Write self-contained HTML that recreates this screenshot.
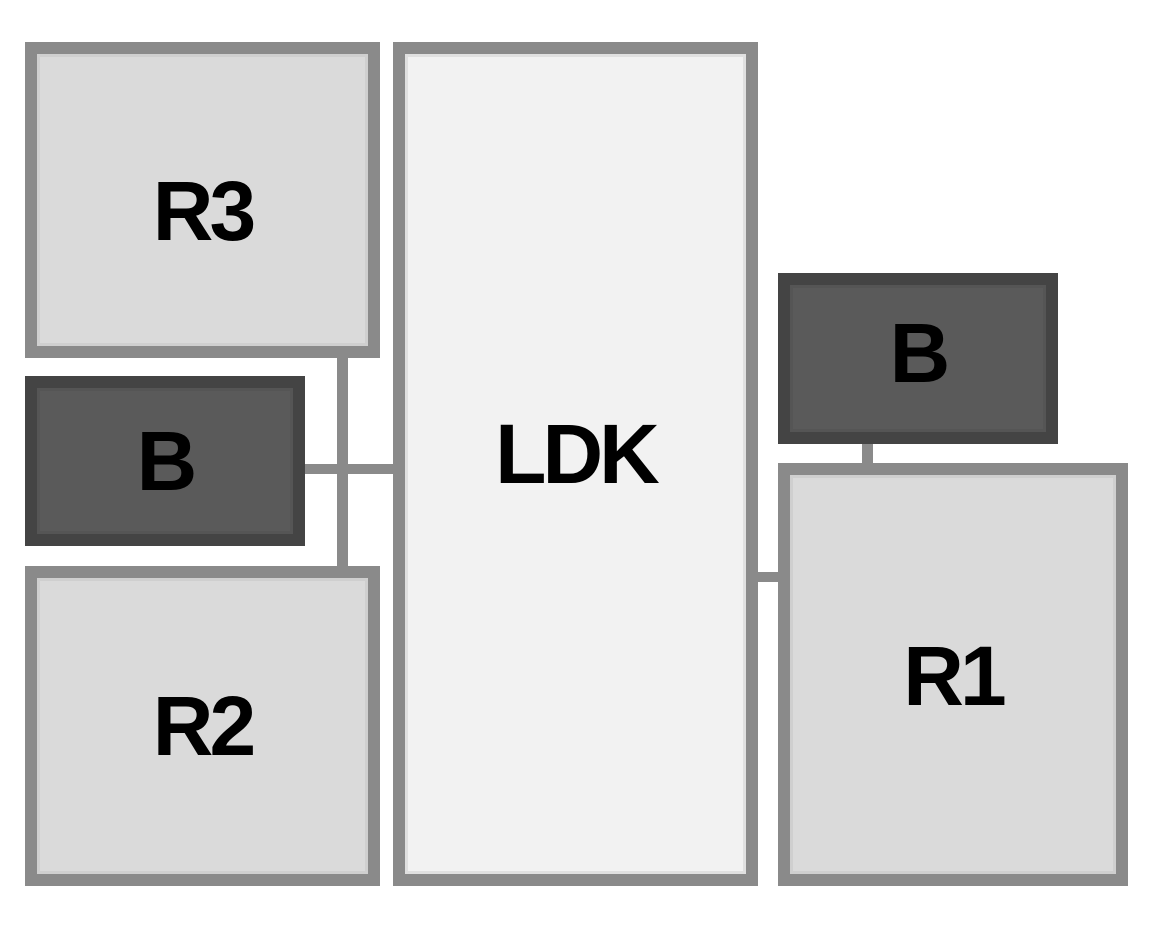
<!DOCTYPE html>
<html><head><style>
body{margin:0;width:1168px;height:928px;background:#fff;position:relative;overflow:hidden;font-family:"Liberation Sans",sans-serif}
.b{position:absolute;box-sizing:border-box;border:12px solid #8a8a8a;background:#dadada;display:flex;align-items:center;justify-content:center;font-weight:bold;font-size:84px;color:#000;letter-spacing:-4px;box-shadow:inset 0 0 0 3px #cfcfcf}
.d{border-color:#444;background:#5a5a5a;box-shadow:inset 0 0 0 3px #555}
.l{position:absolute;background:#8a8a8a}
</style></head><body>
<div class="l" style="left:337px;top:356px;width:11px;height:212px"></div>
<div class="l" style="left:303px;top:464px;width:92px;height:10px"></div>
<div class="l" style="left:862px;top:442px;width:11px;height:24px"></div>
<div class="l" style="left:756px;top:572px;width:24px;height:10px"></div>
<div class="b" style="left:25px;top:42px;width:355px;height:316px;padding-top:22px">R3</div>
<div class="b d" style="left:25px;top:376px;width:280px;height:170px">B</div>
<div class="b" style="left:25px;top:566px;width:355px;height:320px">R2</div>
<div class="b" style="left:393px;top:42px;width:365px;height:844px;background:#f2f2f2;box-shadow:inset 0 0 0 3px #e0e0e0;padding-bottom:20px">LDK</div>
<div class="b d" style="left:778px;top:273px;width:280px;height:171px;padding-bottom:10px">B</div>
<div class="b" style="left:778px;top:463px;width:350px;height:423px;padding-top:4px">R1</div>
</body></html>
